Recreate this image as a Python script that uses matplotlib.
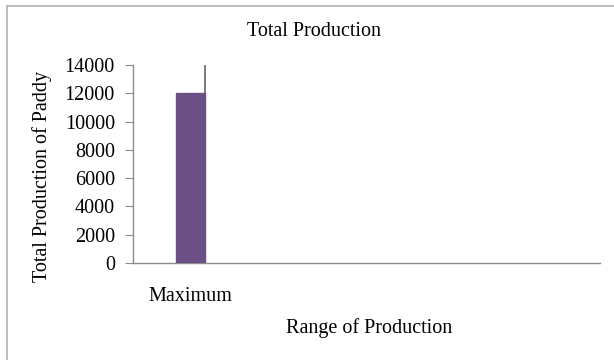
import matplotlib
matplotlib.use("Agg")
import matplotlib.pyplot as plt
from matplotlib.patches import Rectangle

# ── Data ──────────────────────────────────────────────────────────────
categories = ["Maximum"]
production = [12000]
upper_limit = [14000]
y_ticks = [0, 2000, 4000, 6000, 8000, 10000, 12000, 14000]

W, H = 614, 360
AX_L, AX_R, AX_T, AX_B = 133, 600, 65, 263
plt.rcParams["font.family"] = ["Liberation Serif", "DejaVu Serif"]

fig = plt.figure(figsize=(W / 100, H / 100), dpi=100)
fig.patch.set_facecolor("white")

# outer chart-area frame
fig.add_artist(Rectangle((7 / W, -0.01), 1.0, 1 - 6 / H + 0.01,
                         transform=fig.transFigure, fill=False,
                         edgecolor="#b0b0b0", linewidth=1.2))

ax = fig.add_axes([AX_L / W, 1 - AX_B / H, (AX_R - AX_L) / W, (AX_B - AX_T) / H])

x = list(range(len(categories)))
bar_w = 0.25
ax.bar(x, production, width=bar_w, color="#6a5084", edgecolor="#6a5084",
       zorder=3)

# line from the top of the bar up to its upper value, at the bar's right edge
for xi, lo, hi in zip(x, production, upper_limit):
    ax.vlines(xi + bar_w / 2, lo, hi, color="#707070", linewidth=1.3, zorder=4)

ax.set_xlim(-0.5, 3.56)
ax.set_ylim(0, 14000)
ax.set_yticks(y_ticks)
ax.set_xticks(x)
ax.set_xticklabels(categories)

for side in ("top", "right"):
    ax.spines[side].set_visible(False)
for side in ("left", "bottom"):
    ax.spines[side].set_color("#8c8c8c")
    ax.spines[side].set_linewidth(1.0)

ax.tick_params(axis="y", direction="out", length=6, color="#8c8c8c",
               labelsize=14.5, pad=7)
ax.tick_params(axis="x", length=0, labelsize=14.5, pad=17)

fig.text(314 / W, 1 - 31 / H, "Total Production", fontsize=14.5,
         ha="center", va="center")

ax_w, ax_h = AX_R - AX_L, AX_B - AX_T
ax.set_ylabel("Total Production of Paddy", fontsize=14.5, va="center")
ax.yaxis.set_label_coords((42 - AX_L) / ax_w, (AX_B - 176) / ax_h)
ax.set_xlabel("Range of Production", fontsize=14.5, va="center")
ax.xaxis.set_label_coords((369 - AX_L) / ax_w, -(328 - AX_B) / ax_h)

fig.savefig("out.png", dpi=100)
